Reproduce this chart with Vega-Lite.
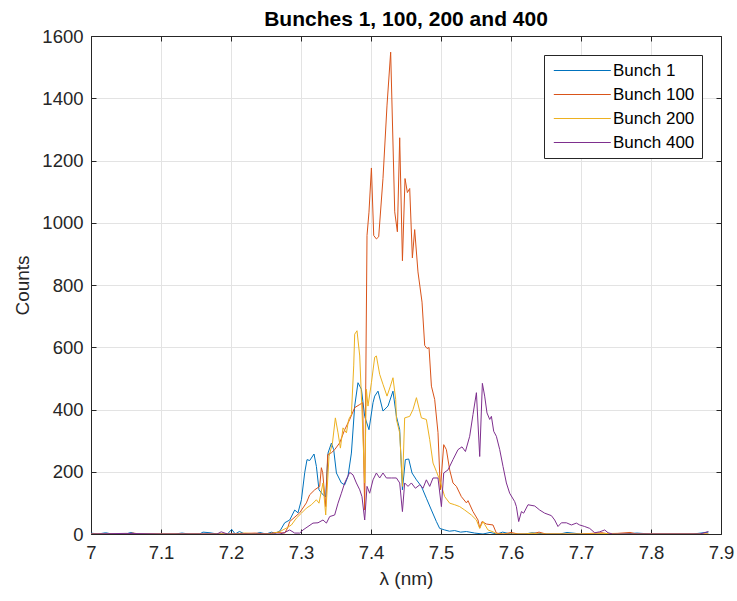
{
  "$schema": "https://vega.github.io/schema/vega-lite/v6.json",
  "width": 630,
  "height": 498,
  "autosize": {"type": "none"},
  "padding": {"left": 91, "top": 36, "right": 16, "bottom": 67},
  "background": "white",
  "title": {
    "text": "Bunches 1, 100, 200 and 400",
    "font": "Liberation Sans",
    "fontSize": 21,
    "fontWeight": "bold",
    "color": "#000000",
    "anchor": "middle",
    "offset": -3
  },
  "config": {
    "view": {"stroke": null},
    "axis": {
      "labelFont": "Liberation Sans",
      "titleFont": "Liberation Sans",
      "labelFontSize": 18.5,
      "titleFontSize": 19,
      "titleFontWeight": "normal",
      "labelColor": "#262626",
      "titleColor": "#262626",
      "domainColor": "#262626",
      "tickColor": "#262626",
      "gridColor": "#e3e3e3",
      "gridOpacity": 1
    },
    "legend": {
      "labelFont": "Liberation Sans"
    }
  },
  "data": {
    "values": [
      {"s": "Bunch 1", "x": 7.000, "y": 3}, {"s": "Bunch 1", "x": 7.010, "y": 0}, {"s": "Bunch 1", "x": 7.021, "y": 4},
      {"s": "Bunch 1", "x": 7.030, "y": 0}, {"s": "Bunch 1", "x": 7.050, "y": 0}, {"s": "Bunch 1", "x": 7.057, "y": 5},
      {"s": "Bunch 1", "x": 7.065, "y": 0}, {"s": "Bunch 1", "x": 7.120, "y": 0}, {"s": "Bunch 1", "x": 7.130, "y": 3},
      {"s": "Bunch 1", "x": 7.140, "y": 0}, {"s": "Bunch 1", "x": 7.155, "y": 0}, {"s": "Bunch 1", "x": 7.160, "y": 6},
      {"s": "Bunch 1", "x": 7.170, "y": 4}, {"s": "Bunch 1", "x": 7.180, "y": 0}, {"s": "Bunch 1", "x": 7.195, "y": 0},
      {"s": "Bunch 1", "x": 7.201, "y": 15}, {"s": "Bunch 1", "x": 7.206, "y": 0}, {"s": "Bunch 1", "x": 7.212, "y": 8},
      {"s": "Bunch 1", "x": 7.220, "y": 0}, {"s": "Bunch 1", "x": 7.235, "y": 0}, {"s": "Bunch 1", "x": 7.241, "y": 5},
      {"s": "Bunch 1", "x": 7.250, "y": 0}, {"s": "Bunch 1", "x": 7.258, "y": 6}, {"s": "Bunch 1", "x": 7.263, "y": 2},
      {"s": "Bunch 1", "x": 7.270, "y": 10}, {"s": "Bunch 1", "x": 7.2767, "y": 36}, {"s": "Bunch 1", "x": 7.2839, "y": 45},
      {"s": "Bunch 1", "x": 7.2910, "y": 77}, {"s": "Bunch 1", "x": 7.2957, "y": 68}, {"s": "Bunch 1", "x": 7.3006, "y": 110},
      {"s": "Bunch 1", "x": 7.3053, "y": 197}, {"s": "Bunch 1", "x": 7.3086, "y": 239}, {"s": "Bunch 1", "x": 7.3124, "y": 236},
      {"s": "Bunch 1", "x": 7.3186, "y": 257}, {"s": "Bunch 1", "x": 7.3220, "y": 217}, {"s": "Bunch 1", "x": 7.3257, "y": 142},
      {"s": "Bunch 1", "x": 7.3314, "y": 126}, {"s": "Bunch 1", "x": 7.3353, "y": 120}, {"s": "Bunch 1", "x": 7.3386, "y": 260},
      {"s": "Bunch 1", "x": 7.3434, "y": 292}, {"s": "Bunch 1", "x": 7.3467, "y": 271}, {"s": "Bunch 1", "x": 7.3506, "y": 196},
      {"s": "Bunch 1", "x": 7.3577, "y": 164}, {"s": "Bunch 1", "x": 7.3624, "y": 158}, {"s": "Bunch 1", "x": 7.3671, "y": 185},
      {"s": "Bunch 1", "x": 7.3720, "y": 260}, {"s": "Bunch 1", "x": 7.3767, "y": 411}, {"s": "Bunch 1", "x": 7.3814, "y": 486},
      {"s": "Bunch 1", "x": 7.3863, "y": 465}, {"s": "Bunch 1", "x": 7.3910, "y": 378}, {"s": "Bunch 1", "x": 7.3971, "y": 335},
      {"s": "Bunch 1", "x": 7.4029, "y": 422}, {"s": "Bunch 1", "x": 7.4053, "y": 443}, {"s": "Bunch 1", "x": 7.4100, "y": 459},
      {"s": "Bunch 1", "x": 7.4171, "y": 395}, {"s": "Bunch 1", "x": 7.4243, "y": 411}, {"s": "Bunch 1", "x": 7.4314, "y": 459},
      {"s": "Bunch 1", "x": 7.4363, "y": 378}, {"s": "Bunch 1", "x": 7.4410, "y": 335}, {"s": "Bunch 1", "x": 7.4449, "y": 142},
      {"s": "Bunch 1", "x": 7.4491, "y": 239}, {"s": "Bunch 1", "x": 7.4539, "y": 241}, {"s": "Bunch 1", "x": 7.4586, "y": 196},
      {"s": "Bunch 1", "x": 7.4649, "y": 174}, {"s": "Bunch 1", "x": 7.4720, "y": 153}, {"s": "Bunch 1", "x": 7.4791, "y": 115},
      {"s": "Bunch 1", "x": 7.4863, "y": 77}, {"s": "Bunch 1", "x": 7.4934, "y": 40}, {"s": "Bunch 1", "x": 7.4981, "y": 18},
      {"s": "Bunch 1", "x": 7.5053, "y": 13}, {"s": "Bunch 1", "x": 7.5120, "y": 9}, {"s": "Bunch 1", "x": 7.5196, "y": 11},
      {"s": "Bunch 1", "x": 7.5280, "y": 6}, {"s": "Bunch 1", "x": 7.5363, "y": 8}, {"s": "Bunch 1", "x": 7.5481, "y": 3},
      {"s": "Bunch 1", "x": 7.5600, "y": 0}, {"s": "Bunch 1", "x": 7.5700, "y": 5}, {"s": "Bunch 1", "x": 7.5800, "y": 0},
      {"s": "Bunch 1", "x": 7.5880, "y": 6}, {"s": "Bunch 1", "x": 7.6000, "y": 0}, {"s": "Bunch 1", "x": 7.6200, "y": 0},
      {"s": "Bunch 1", "x": 7.6300, "y": 4}, {"s": "Bunch 1", "x": 7.6500, "y": 0}, {"s": "Bunch 1", "x": 7.6700, "y": 0},
      {"s": "Bunch 1", "x": 7.6800, "y": 5}, {"s": "Bunch 1", "x": 7.7000, "y": 0}, {"s": "Bunch 1", "x": 7.7600, "y": 0},
      {"s": "Bunch 1", "x": 7.7800, "y": 3}, {"s": "Bunch 1", "x": 7.8000, "y": 0}, {"s": "Bunch 1", "x": 7.8600, "y": 0},
      {"s": "Bunch 1", "x": 7.8820, "y": 6},

      {"s": "Bunch 100", "x": 7.000, "y": 0}, {"s": "Bunch 100", "x": 7.050, "y": 0}, {"s": "Bunch 100", "x": 7.060, "y": 3},
      {"s": "Bunch 100", "x": 7.070, "y": 0}, {"s": "Bunch 100", "x": 7.200, "y": 0}, {"s": "Bunch 100", "x": 7.235, "y": 3},
      {"s": "Bunch 100", "x": 7.250, "y": 0}, {"s": "Bunch 100", "x": 7.265, "y": 5}, {"s": "Bunch 100", "x": 7.2767, "y": 3},
      {"s": "Bunch 100", "x": 7.2810, "y": 20}, {"s": "Bunch 100", "x": 7.2839, "y": 40}, {"s": "Bunch 100", "x": 7.2981, "y": 68},
      {"s": "Bunch 100", "x": 7.3077, "y": 100}, {"s": "Bunch 100", "x": 7.3124, "y": 126}, {"s": "Bunch 100", "x": 7.3196, "y": 142},
      {"s": "Bunch 100", "x": 7.3267, "y": 153}, {"s": "Bunch 100", "x": 7.3291, "y": 213}, {"s": "Bunch 100", "x": 7.3310, "y": 197},
      {"s": "Bunch 100", "x": 7.3353, "y": 88}, {"s": "Bunch 100", "x": 7.3381, "y": 255}, {"s": "Bunch 100", "x": 7.3434, "y": 261},
      {"s": "Bunch 100", "x": 7.3481, "y": 271}, {"s": "Bunch 100", "x": 7.3553, "y": 293}, {"s": "Bunch 100", "x": 7.3624, "y": 335},
      {"s": "Bunch 100", "x": 7.3696, "y": 368}, {"s": "Bunch 100", "x": 7.3767, "y": 406}, {"s": "Bunch 100", "x": 7.3839, "y": 416},
      {"s": "Bunch 100", "x": 7.3881, "y": 422}, {"s": "Bunch 100", "x": 7.3910, "y": 77}, {"s": "Bunch 100", "x": 7.3943, "y": 959},
      {"s": "Bunch 100", "x": 7.3971, "y": 1034}, {"s": "Bunch 100", "x": 7.4006, "y": 1176}, {"s": "Bunch 100", "x": 7.4039, "y": 959},
      {"s": "Bunch 100", "x": 7.4077, "y": 948}, {"s": "Bunch 100", "x": 7.4110, "y": 955}, {"s": "Bunch 100", "x": 7.4171, "y": 1142},
      {"s": "Bunch 100", "x": 7.4229, "y": 1378}, {"s": "Bunch 100", "x": 7.4281, "y": 1548}, {"s": "Bunch 100", "x": 7.4339, "y": 1035},
      {"s": "Bunch 100", "x": 7.4377, "y": 971}, {"s": "Bunch 100", "x": 7.4410, "y": 1273}, {"s": "Bunch 100", "x": 7.4449, "y": 878},
      {"s": "Bunch 100", "x": 7.4486, "y": 1142}, {"s": "Bunch 100", "x": 7.4520, "y": 1097}, {"s": "Bunch 100", "x": 7.4553, "y": 1110},
      {"s": "Bunch 100", "x": 7.4591, "y": 887}, {"s": "Bunch 100", "x": 7.4624, "y": 978}, {"s": "Bunch 100", "x": 7.4671, "y": 842},
      {"s": "Bunch 100", "x": 7.4729, "y": 745}, {"s": "Bunch 100", "x": 7.4767, "y": 606}, {"s": "Bunch 100", "x": 7.4800, "y": 596},
      {"s": "Bunch 100", "x": 7.4829, "y": 599}, {"s": "Bunch 100", "x": 7.4863, "y": 475}, {"s": "Bunch 100", "x": 7.4910, "y": 432},
      {"s": "Bunch 100", "x": 7.4957, "y": 326}, {"s": "Bunch 100", "x": 7.4991, "y": 142}, {"s": "Bunch 100", "x": 7.5039, "y": 287},
      {"s": "Bunch 100", "x": 7.5077, "y": 271}, {"s": "Bunch 100", "x": 7.5124, "y": 206}, {"s": "Bunch 100", "x": 7.5171, "y": 164},
      {"s": "Bunch 100", "x": 7.5220, "y": 153}, {"s": "Bunch 100", "x": 7.5291, "y": 120}, {"s": "Bunch 100", "x": 7.5363, "y": 100},
      {"s": "Bunch 100", "x": 7.5386, "y": 107}, {"s": "Bunch 100", "x": 7.5457, "y": 72}, {"s": "Bunch 100", "x": 7.5529, "y": 45},
      {"s": "Bunch 100", "x": 7.5553, "y": 19}, {"s": "Bunch 100", "x": 7.5586, "y": 40}, {"s": "Bunch 100", "x": 7.5649, "y": 32},
      {"s": "Bunch 100", "x": 7.5743, "y": 29}, {"s": "Bunch 100", "x": 7.5791, "y": 3}, {"s": "Bunch 100", "x": 7.5900, "y": 0},
      {"s": "Bunch 100", "x": 7.6000, "y": 5}, {"s": "Bunch 100", "x": 7.6100, "y": 0}, {"s": "Bunch 100", "x": 7.6300, "y": 0},
      {"s": "Bunch 100", "x": 7.6400, "y": 6}, {"s": "Bunch 100", "x": 7.6500, "y": 0}, {"s": "Bunch 100", "x": 7.7000, "y": 0},
      {"s": "Bunch 100", "x": 7.7300, "y": 4}, {"s": "Bunch 100", "x": 7.7400, "y": 0}, {"s": "Bunch 100", "x": 7.7700, "y": 5},
      {"s": "Bunch 100", "x": 7.7800, "y": 0}, {"s": "Bunch 100", "x": 7.8820, "y": 0},

      {"s": "Bunch 200", "x": 7.000, "y": 0}, {"s": "Bunch 200", "x": 7.050, "y": 0}, {"s": "Bunch 200", "x": 7.200, "y": 0},
      {"s": "Bunch 200", "x": 7.220, "y": 3}, {"s": "Bunch 200", "x": 7.240, "y": 0}, {"s": "Bunch 200", "x": 7.260, "y": 2},
      {"s": "Bunch 200", "x": 7.270, "y": 8}, {"s": "Bunch 200", "x": 7.2791, "y": 19}, {"s": "Bunch 200", "x": 7.2863, "y": 29},
      {"s": "Bunch 200", "x": 7.2934, "y": 51}, {"s": "Bunch 200", "x": 7.3006, "y": 67}, {"s": "Bunch 200", "x": 7.3077, "y": 83},
      {"s": "Bunch 200", "x": 7.3149, "y": 94}, {"s": "Bunch 200", "x": 7.3220, "y": 110}, {"s": "Bunch 200", "x": 7.3257, "y": 99},
      {"s": "Bunch 200", "x": 7.3314, "y": 164}, {"s": "Bunch 200", "x": 7.3353, "y": 61}, {"s": "Bunch 200", "x": 7.3400, "y": 249},
      {"s": "Bunch 200", "x": 7.3449, "y": 292}, {"s": "Bunch 200", "x": 7.3491, "y": 373}, {"s": "Bunch 200", "x": 7.3529, "y": 325},
      {"s": "Bunch 200", "x": 7.3563, "y": 276}, {"s": "Bunch 200", "x": 7.3600, "y": 341}, {"s": "Bunch 200", "x": 7.3649, "y": 325},
      {"s": "Bunch 200", "x": 7.3681, "y": 368}, {"s": "Bunch 200", "x": 7.3720, "y": 384}, {"s": "Bunch 200", "x": 7.3753, "y": 540},
      {"s": "Bunch 200", "x": 7.3767, "y": 642}, {"s": "Bunch 200", "x": 7.3800, "y": 653}, {"s": "Bunch 200", "x": 7.3839, "y": 572},
      {"s": "Bunch 200", "x": 7.3874, "y": 380}, {"s": "Bunch 200", "x": 7.3910, "y": 164}, {"s": "Bunch 200", "x": 7.3934, "y": 465},
      {"s": "Bunch 200", "x": 7.3957, "y": 411}, {"s": "Bunch 200", "x": 7.4006, "y": 486}, {"s": "Bunch 200", "x": 7.4053, "y": 568},
      {"s": "Bunch 200", "x": 7.4077, "y": 572}, {"s": "Bunch 200", "x": 7.4124, "y": 513}, {"s": "Bunch 200", "x": 7.4171, "y": 481},
      {"s": "Bunch 200", "x": 7.4229, "y": 443}, {"s": "Bunch 200", "x": 7.4277, "y": 475}, {"s": "Bunch 200", "x": 7.4314, "y": 502},
      {"s": "Bunch 200", "x": 7.4353, "y": 432}, {"s": "Bunch 200", "x": 7.4363, "y": 368}, {"s": "Bunch 200", "x": 7.4410, "y": 325},
      {"s": "Bunch 200", "x": 7.4449, "y": 153}, {"s": "Bunch 200", "x": 7.4481, "y": 373}, {"s": "Bunch 200", "x": 7.4553, "y": 378},
      {"s": "Bunch 200", "x": 7.4600, "y": 400}, {"s": "Bunch 200", "x": 7.4649, "y": 438}, {"s": "Bunch 200", "x": 7.4720, "y": 373},
      {"s": "Bunch 200", "x": 7.4791, "y": 368}, {"s": "Bunch 200", "x": 7.4839, "y": 303}, {"s": "Bunch 200", "x": 7.4886, "y": 228},
      {"s": "Bunch 200", "x": 7.4934, "y": 201}, {"s": "Bunch 200", "x": 7.4981, "y": 174}, {"s": "Bunch 200", "x": 7.5053, "y": 120},
      {"s": "Bunch 200", "x": 7.5124, "y": 99}, {"s": "Bunch 200", "x": 7.5196, "y": 94}, {"s": "Bunch 200", "x": 7.5267, "y": 88},
      {"s": "Bunch 200", "x": 7.5339, "y": 77}, {"s": "Bunch 200", "x": 7.5434, "y": 61}, {"s": "Bunch 200", "x": 7.5506, "y": 45},
      {"s": "Bunch 200", "x": 7.5553, "y": 18}, {"s": "Bunch 200", "x": 7.5600, "y": 40}, {"s": "Bunch 200", "x": 7.5671, "y": 13},
      {"s": "Bunch 200", "x": 7.5743, "y": 7}, {"s": "Bunch 200", "x": 7.5800, "y": 0}, {"s": "Bunch 200", "x": 7.6200, "y": 0},
      {"s": "Bunch 200", "x": 7.6300, "y": 3}, {"s": "Bunch 200", "x": 7.6400, "y": 0}, {"s": "Bunch 200", "x": 7.7000, "y": 0},
      {"s": "Bunch 200", "x": 7.7500, "y": 2}, {"s": "Bunch 200", "x": 7.7600, "y": 0}, {"s": "Bunch 200", "x": 7.8820, "y": 0},

      {"s": "Bunch 400", "x": 7.000, "y": 0}, {"s": "Bunch 400", "x": 7.050, "y": 2}, {"s": "Bunch 400", "x": 7.100, "y": 0},
      {"s": "Bunch 400", "x": 7.180, "y": 0}, {"s": "Bunch 400", "x": 7.186, "y": 7}, {"s": "Bunch 400", "x": 7.195, "y": 0},
      {"s": "Bunch 400", "x": 7.270, "y": 0}, {"s": "Bunch 400", "x": 7.2767, "y": 5}, {"s": "Bunch 400", "x": 7.2839, "y": 13},
      {"s": "Bunch 400", "x": 7.2910, "y": 3}, {"s": "Bunch 400", "x": 7.2981, "y": 3}, {"s": "Bunch 400", "x": 7.3029, "y": 13},
      {"s": "Bunch 400", "x": 7.3100, "y": 24}, {"s": "Bunch 400", "x": 7.3171, "y": 35}, {"s": "Bunch 400", "x": 7.3243, "y": 36},
      {"s": "Bunch 400", "x": 7.3314, "y": 45}, {"s": "Bunch 400", "x": 7.3363, "y": 35}, {"s": "Bunch 400", "x": 7.3410, "y": 56},
      {"s": "Bunch 400", "x": 7.3481, "y": 61}, {"s": "Bunch 400", "x": 7.3529, "y": 99}, {"s": "Bunch 400", "x": 7.3577, "y": 131},
      {"s": "Bunch 400", "x": 7.3624, "y": 164}, {"s": "Bunch 400", "x": 7.3696, "y": 198}, {"s": "Bunch 400", "x": 7.3743, "y": 190},
      {"s": "Bunch 400", "x": 7.3791, "y": 164}, {"s": "Bunch 400", "x": 7.3839, "y": 142}, {"s": "Bunch 400", "x": 7.3871, "y": 120},
      {"s": "Bunch 400", "x": 7.3910, "y": 45}, {"s": "Bunch 400", "x": 7.3943, "y": 153}, {"s": "Bunch 400", "x": 7.3981, "y": 131},
      {"s": "Bunch 400", "x": 7.4029, "y": 174}, {"s": "Bunch 400", "x": 7.4077, "y": 196}, {"s": "Bunch 400", "x": 7.4124, "y": 180},
      {"s": "Bunch 400", "x": 7.4171, "y": 196}, {"s": "Bunch 400", "x": 7.4220, "y": 180}, {"s": "Bunch 400", "x": 7.4291, "y": 180},
      {"s": "Bunch 400", "x": 7.4363, "y": 180}, {"s": "Bunch 400", "x": 7.4410, "y": 164}, {"s": "Bunch 400", "x": 7.4449, "y": 72},
      {"s": "Bunch 400", "x": 7.4481, "y": 164}, {"s": "Bunch 400", "x": 7.4529, "y": 153}, {"s": "Bunch 400", "x": 7.4577, "y": 164},
      {"s": "Bunch 400", "x": 7.4634, "y": 147}, {"s": "Bunch 400", "x": 7.4696, "y": 158}, {"s": "Bunch 400", "x": 7.4743, "y": 147},
      {"s": "Bunch 400", "x": 7.4791, "y": 174}, {"s": "Bunch 400", "x": 7.4839, "y": 153}, {"s": "Bunch 400", "x": 7.4886, "y": 180},
      {"s": "Bunch 400", "x": 7.4957, "y": 180}, {"s": "Bunch 400", "x": 7.5006, "y": 88}, {"s": "Bunch 400", "x": 7.5039, "y": 196},
      {"s": "Bunch 400", "x": 7.5100, "y": 206}, {"s": "Bunch 400", "x": 7.5171, "y": 239}, {"s": "Bunch 400", "x": 7.5243, "y": 271},
      {"s": "Bunch 400", "x": 7.5300, "y": 280}, {"s": "Bunch 400", "x": 7.5349, "y": 265}, {"s": "Bunch 400", "x": 7.5410, "y": 314},
      {"s": "Bunch 400", "x": 7.5457, "y": 384}, {"s": "Bunch 400", "x": 7.5506, "y": 454}, {"s": "Bunch 400", "x": 7.5553, "y": 249},
      {"s": "Bunch 400", "x": 7.5591, "y": 484}, {"s": "Bunch 400", "x": 7.5624, "y": 443}, {"s": "Bunch 400", "x": 7.5657, "y": 389},
      {"s": "Bunch 400", "x": 7.5696, "y": 368}, {"s": "Bunch 400", "x": 7.5720, "y": 378}, {"s": "Bunch 400", "x": 7.5753, "y": 330},
      {"s": "Bunch 400", "x": 7.5791, "y": 314}, {"s": "Bunch 400", "x": 7.5839, "y": 271}, {"s": "Bunch 400", "x": 7.5886, "y": 217},
      {"s": "Bunch 400", "x": 7.5934, "y": 164}, {"s": "Bunch 400", "x": 7.5981, "y": 131}, {"s": "Bunch 400", "x": 7.6053, "y": 104},
      {"s": "Bunch 400", "x": 7.6077, "y": 88}, {"s": "Bunch 400", "x": 7.6110, "y": 40}, {"s": "Bunch 400", "x": 7.6149, "y": 72},
      {"s": "Bunch 400", "x": 7.6181, "y": 67}, {"s": "Bunch 400", "x": 7.6243, "y": 94}, {"s": "Bunch 400", "x": 7.6339, "y": 90},
      {"s": "Bunch 400", "x": 7.6410, "y": 77}, {"s": "Bunch 400", "x": 7.6481, "y": 67}, {"s": "Bunch 400", "x": 7.6577, "y": 59},
      {"s": "Bunch 400", "x": 7.6624, "y": 45}, {"s": "Bunch 400", "x": 7.6671, "y": 24}, {"s": "Bunch 400", "x": 7.6720, "y": 36},
      {"s": "Bunch 400", "x": 7.6791, "y": 36}, {"s": "Bunch 400", "x": 7.6863, "y": 29}, {"s": "Bunch 400", "x": 7.6934, "y": 35},
      {"s": "Bunch 400", "x": 7.6981, "y": 29}, {"s": "Bunch 400", "x": 7.7053, "y": 24}, {"s": "Bunch 400", "x": 7.7124, "y": 18},
      {"s": "Bunch 400", "x": 7.7196, "y": 4}, {"s": "Bunch 400", "x": 7.7267, "y": 7}, {"s": "Bunch 400", "x": 7.7339, "y": 13},
      {"s": "Bunch 400", "x": 7.7386, "y": 4}, {"s": "Bunch 400", "x": 7.7453, "y": 0}, {"s": "Bunch 400", "x": 7.8000, "y": 0},
      {"s": "Bunch 400", "x": 7.8700, "y": 0}, {"s": "Bunch 400", "x": 7.8820, "y": 8}
    ]
  },
  "layer": [
    {
      "mark": {"type": "line", "strokeWidth": 1, "clip": true},
      "encoding": {
        "x": {
          "field": "x", "type": "quantitative",
          "scale": {"domain": [7, 7.9], "nice": false, "zero": false},
          "axis": {
            "title": "λ (nm)",
            "format": "~g",
            "values": [7, 7.1, 7.2, 7.3, 7.4, 7.5, 7.6, 7.7, 7.8, 7.9],
            "tickSize": -5,
            "labelPadding": 14,
            "titlePadding": 8,
            "grid": true,
            "labelFlush": false
          }
        },
        "y": {
          "field": "y", "type": "quantitative",
          "scale": {"domain": [0, 1600], "nice": false},
          "axis": {
            "title": "Counts",
            "format": "d",
            "values": [0, 200, 400, 600, 800, 1000, 1200, 1400, 1600],
            "tickSize": -5,
            "labelPadding": 13,
            "titlePadding": 9,
            "grid": true,
            "labelFlush": false
          }
        },
        "color": {
          "field": "s", "type": "nominal",
          "scale": {
            "domain": ["Bunch 1", "Bunch 100", "Bunch 200", "Bunch 400"],
            "range": ["#0072BD", "#D95319", "#EDB120", "#7E2F8E"]
          },
          "legend": {
            "title": null,
            "orient": "none",
            "legendX": 453,
            "legendY": 19,
            "symbolType": "M-1,0H9",
            "symbolSize": 130,
            "symbolStrokeWidth": 1,
            "labelFontSize": 17,
            "labelColor": "#000000",
            "labelOffset": 45,
            "rowPadding": 6,
            "padding": 7,
            "strokeColor": "#262626",
            "fillColor": "#ffffff"
          }
        }
      }
    },
    {
      "mark": {"type": "line", "opacity": 0},
      "encoding": {
        "x": {
          "field": "x", "type": "quantitative",
          "axis": {
            "orient": "top", "title": null, "labels": false, "grid": false,
            "values": [7, 7.1, 7.2, 7.3, 7.4, 7.5, 7.6, 7.7, 7.8, 7.9],
            "tickSize": -5
          }
        },
        "y": {
          "field": "y", "type": "quantitative",
          "axis": {
            "orient": "right", "title": null, "labels": false, "grid": false,
            "values": [0, 200, 400, 600, 800, 1000, 1200, 1400, 1600],
            "tickSize": -5
          }
        },
        "detail": {"field": "s"}
      }
    }
  ],
  "resolve": {"axis": {"x": "independent", "y": "independent"}}
}
